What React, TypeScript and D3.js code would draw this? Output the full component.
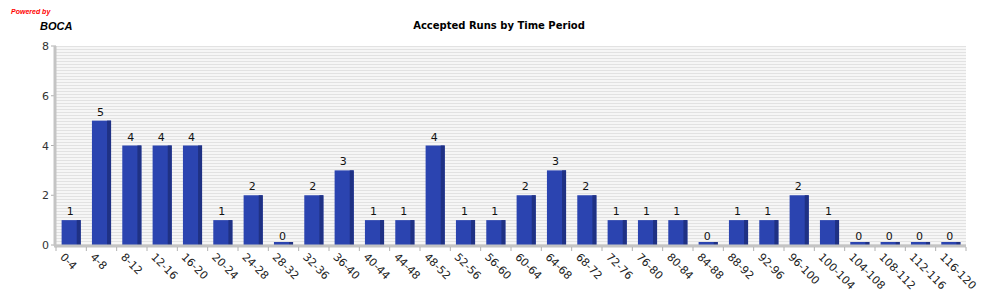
import React from "react";
import * as d3 from "d3";

const categories = ["0-4","4-8","8-12","12-16","16-20","20-24","24-28","28-32","32-36","36-40","40-44","44-48","48-52","52-56","56-60","60-64","64-68","68-72","72-76","76-80","80-84","84-88","88-92","92-96","96-100","100-104","104-108","108-112","112-116","116-120"];
const runs = [1,5,4,4,4,1,2,0,2,3,1,1,4,1,1,2,3,2,1,1,1,0,1,1,2,1,0,0,0,0];
const yTicks = [0,2,4,6,8];

const W = 1000, H = 300;
const left = 56, right = 966, top = 46, bottom = 245;
const FONT = "'DejaVu Sans', sans-serif";

export default function App() {
  const x = d3.scaleBand<string>().domain(categories).range([left, right]).paddingInner(0.37).paddingOuter(0.185);
  const y = d3.scaleLinear().domain([0, 8]).range([bottom, top]);
  const bw = x.bandwidth();
  const side = 4;
  return (
    <svg width={W} height={H} style={{ position: "absolute", left: 0, top: 0 }} fontFamily={FONT}>
      <defs>
        <pattern id="stripes" width="4" height="3" patternUnits="userSpaceOnUse" y={top}>
          <rect width="4" height="3" fill="#f6f6f6" />
          <rect width="4" height="1" fill="#e2e2e2" />
        </pattern>
      </defs>
      <text x={11} y={14} fontSize={7} fontStyle="italic" fontWeight="bold" fill="#ff0000" fontFamily="'Liberation Sans', Arial, sans-serif">Powered by</text>
      <text x={40} y={30} fontSize={11} fontStyle="italic" fontWeight="bold" fill="#000" fontFamily="'Liberation Sans', Arial, sans-serif">BOCA</text>
      <text x={499} y={29} fontSize={10} fontWeight="bold" textAnchor="middle" fill="#000">Accepted Runs by Time Period</text>
      <rect x={left} y={top} width={right - left} height={bottom - top} fill="url(#stripes)" />
      {yTicks.map(t => (
        <g key={t}>
          <line x1={left - 5} x2={left} y1={y(t)} y2={y(t)} stroke="#b0b0b0" strokeWidth={1} />
          <text x={left - 7} y={y(t) + 4} fontSize={11} textAnchor="end" fill="#333">{t}</text>
        </g>
      ))}
      {categories.map((c, i) => {
        const bx = x(c)!;
        const v = runs[i];
        const yt = v === 0 ? bottom - 3 : y(v);
        const h = bottom - yt;
        const cx = bx + bw / 2;
        return (
          <g key={c}>
            <rect x={bx} y={yt} width={bw} height={h} fill="#2b44b0" />
            <rect x={bx + bw - side} y={yt} width={side} height={h} fill="#1f3184" />
            <text x={cx - 1} y={(v === 0 ? y(0) : y(v)) - 5} fontSize={11} textAnchor="middle" fill="#111">{v}</text>
            <text transform={`translate(${cx - 6},${bottom + 7}) rotate(45)`} fontSize={11} dominantBaseline="hanging" fill="#222">{c}</text>
          </g>
        );
      })}
      <line x1={left - 1} x2={left - 1} y1={top} y2={bottom + 1} stroke="#c4c4c4" strokeWidth={3} />
      <line x1={left - 2} x2={right} y1={bottom + 1} y2={bottom + 1} stroke="#c4c4c4" strokeWidth={3} />
      {d3.range(categories.length + 1).map(i => {
        const tx = left + (i === 0 ? 0 : x.step() * i);
        return <line key={i} x1={tx} x2={tx} y1={bottom + 2} y2={bottom + 6} stroke="#b0b0b0" strokeWidth={1} />;
      })}
    </svg>
  );
}
